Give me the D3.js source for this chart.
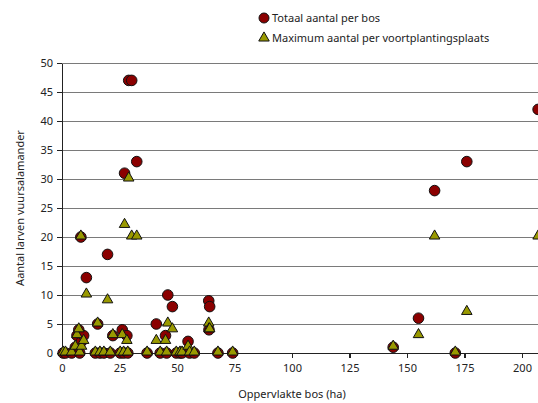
<!DOCTYPE html>
<html>
<head>
<meta charset="utf-8">
<script src="https://cdn.jsdelivr.net/npm/d3@7"></script>
<style>
	body { margin: 0; background: #fff; }
	svg { display: block; font-family: "Noto Sans", sans-serif; }
	.axis path, .axis line { stroke: #222; stroke-width: 1.3; shape-rendering: crispEdges; }
	.axis text { font-size: 11px; fill: #222; font-family: "Noto Sans", sans-serif; }
	.grid line { stroke: #7a7a7a; stroke-width: 1.5; shape-rendering: crispEdges; }
	.grid path { display: none; }
</style>
</head>
<body>
<script>
// oppervlakte bos (ha)
var area = [0.5, 1.5, 4.2, 5.8, 6.5, 7.3, 7.7, 8.2, 8.5, 9.4, 10.6, 14.5, 15.5, 16.5, 18.2, 19.8,
	21, 22.1, 25.3, 26.2, 26.8, 27.2, 28.2, 28.6, 29.0, 30.3, 32.5, 37, 41, 42.7, 45, 45.5, 46, 48,
	49.7, 51.3, 52.2, 54.8, 55.5, 57.5, 63.8, 63.9, 64.2, 67.8, 74.2, 144, 155, 162, 171, 176, 207];
// totaal aantal per bos
var total = [0, 0, 0, 1, 3, 4, 0, 20, 2, 3, 13, 0, 5, 0, 0, 17,
	0, 3, 0, 4, 0, 31, 3, 0, 47, 47, 33, 0, 5, 0, 3, 0, 10, 8,
	0, 0, 0, 2, 0, 0, 9, 4, 8, 0, 0, 1, 6, 28, 0, 33, 42];
// maximum aantal per voortplantingsplaats
var maxPlaats = [0, 0, 0, 1, 3, 4, 0, 20, 1, 2, 10, 0, 5, 0, 0, 9,
	0, 3, 0, 3, 0, 22, 2, 0, 30, 20, 20, 0, 2, 0, 2, 0, 5, 4,
	0, 0, 0, 1, 0, 0, 5, 4, 4, 0, 0, 1, 3, 20, 0, 7, 20];
var xTicks = [0, 25, 50, 75, 100, 125, 150, 175, 200];
var yTicks = [0, 5, 10, 15, 20, 25, 30, 35, 40, 45, 50];
var seriesNames = ["Totaal aantal per bos", "Maximum aantal per voortplantingsplaats"];

var width = 538, height = 403;
var red = "#8b0000", olive = "#999900";

var svg = d3.select("body").append("svg")
	.attr("width", width)
	.attr("height", height);

var x = d3.scaleLinear().domain([0, 210]).range([62, 545]);
var y = d3.scaleLinear().domain([0, 50]).range([353, 63]);

// gridlijnen
svg.append("g")
	.attr("class", "grid")
	.attr("transform", "translate(62,0)")
	.call(d3.axisRight(y).tickValues(yTicks.slice(1)).tickSize(width).tickFormat(""));

// assen
svg.append("g")
	.attr("class", "axis")
	.attr("transform", "translate(0,353)")
	.call(d3.axisBottom(x).tickValues(xTicks).tickSize(5).tickSizeOuter(0).tickPadding(6));

svg.append("g")
	.attr("class", "axis")
	.attr("transform", "translate(62,0)")
	.call(d3.axisLeft(y).tickValues(yTicks).tickSize(5).tickSizeOuter(0).tickPadding(4));

svg.append("text")
	.attr("x", 292).attr("y", 398)
	.attr("text-anchor", "middle")
	.attr("font-size", 11).attr("fill", "#222")
	.text("Oppervlakte bos (ha)");

svg.append("text")
	.attr("transform", "translate(24,208) rotate(-90)")
	.attr("text-anchor", "middle")
	.attr("font-size", 11).attr("fill", "#222")
	.text("Aantal larven vuursalamander");

var tri = d3.symbol().type(d3.symbolTriangle).size(48);

// punten
svg.append("g").selectAll("circle")
	.data(area)
	.enter()
	.append("circle")
	.attr("cx", function(d) { return x(d); })
	.attr("cy", function(d, i) { return y(total[i]); })
	.attr("r", 5.3)
	.attr("fill", red)
	.attr("stroke", "#111")
	.attr("stroke-width", 1);

svg.append("g").selectAll("path")
	.data(area)
	.enter()
	.append("path")
	.attr("d", tri)
	.attr("transform", function(d, i) { return "translate(" + x(d) + "," + (y(maxPlaats[i]) - 1) + ")"; })
	.attr("fill", olive)
	.attr("stroke", "#111")
	.attr("stroke-width", 1);

// legenda
var legend = svg.append("g");
legend.append("circle")
	.attr("cx", 264).attr("cy", 18).attr("r", 5)
	.attr("fill", red).attr("stroke", "#111");
legend.append("path")
	.attr("d", tri)
	.attr("transform", "translate(264,38)")
	.attr("fill", olive).attr("stroke", "#111");
legend.selectAll("text")
	.data(seriesNames)
	.enter()
	.append("text")
	.attr("x", 272)
	.attr("y", function(d, i) { return 22 + i * 20; })
	.attr("font-size", 11).attr("fill", "#222")
	.text(function(d) { return d; });
</script>
</body>
</html>
